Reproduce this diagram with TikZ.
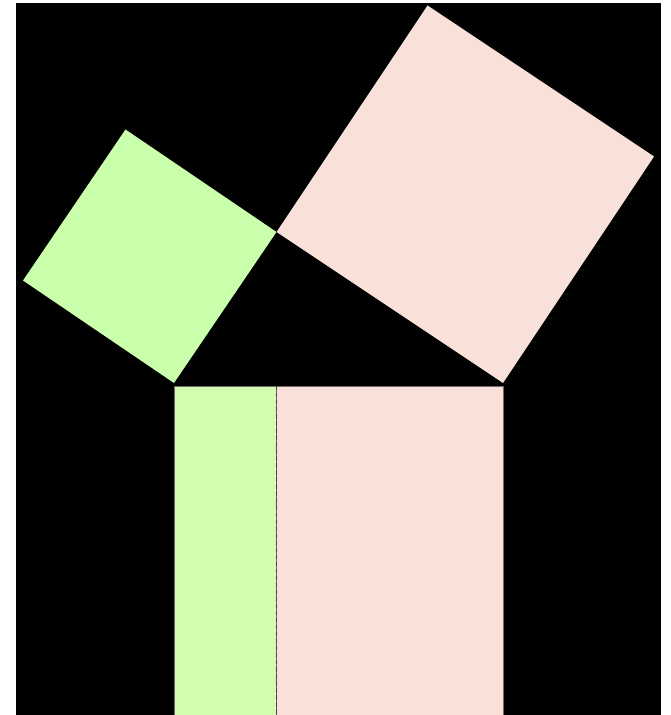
\documentclass[tikz,border=0pt]{standalone}
\usepackage{tikz}
\usetikzlibrary{calc}
\definecolor{legGreen}{RGB}{202,255,172}
\definecolor{baseGreen}{RGB}{212,253,178}
\definecolor{legPink}{RGB}{249,225,217}
\definecolor{edgeGray}{RGB}{110,110,110}
\begin{document}
\begin{tikzpicture}[x=0.02cm, y=-0.02cm]
  \useasboundingbox (0,0) rectangle (671,715);
  \clip (0,0) rectangle (671,715);
  \fill[black] (16,3) rectangle (661,716);
  % triangle
  \coordinate (A) at (174,383);
  \coordinate (B) at (503,383);
  \coordinate (C) at (276.5,232);
  \coordinate (D) at (A -| C);
  % squares on the legs
  \fill[legGreen] (A) -- (C) -- ($(C)!1!-90:(A)$) -- ($(A)!1!90:(C)$) -- cycle;
  \fill[legPink] (C) -- (B) -- ($(B)!1!-90:(C)$) -- ($(C)!1!90:(B)$) -- cycle;
  % square on the hypotenuse
  \fill[baseGreen, draw=edgeGray, line width=0.3pt] ($(A)+(0,3)$) rectangle ($(D)+(0,340)$);
  \fill[legPink, draw=edgeGray, line width=0.3pt] ($(D)+(0,3)$) rectangle ($(B)+(0,340)$);
  \draw[black!75, dash pattern=on 2.5pt off 1.5pt, line width=0.6pt] ($(D)+(0,3)$) -- ($(D)+(0,340)$);
\end{tikzpicture}
\end{document}
